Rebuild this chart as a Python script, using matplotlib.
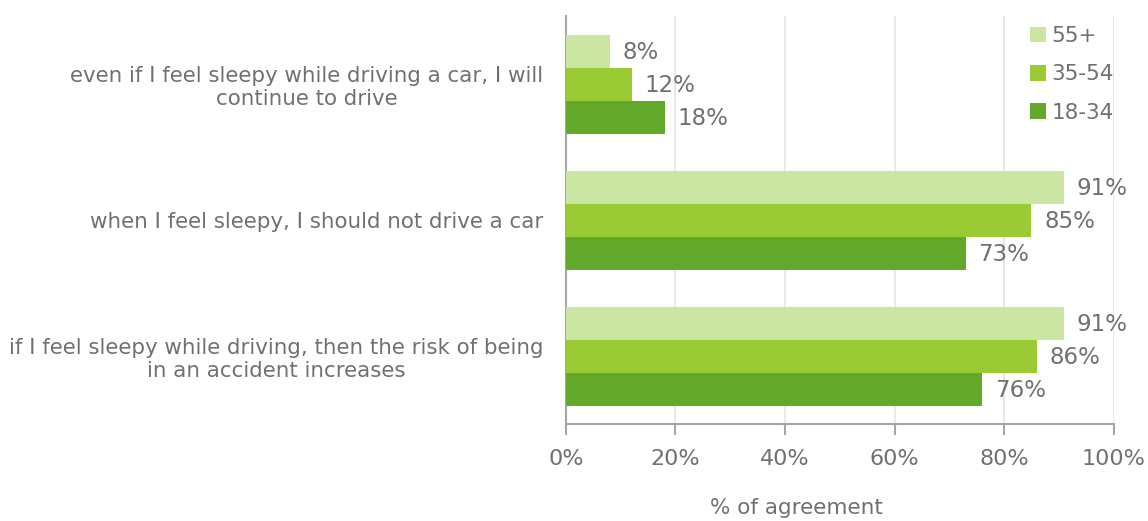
import numpy as np
import matplotlib
matplotlib.use("Agg")
import matplotlib.pyplot as plt

# data
statements = [
    "even if I feel sleepy while driving a car, I will\ncontinue to drive",
    "when I feel sleepy, I should not drive a car",
    "if I feel sleepy while driving, then the risk of being\nin an accident increases",
]
groups = ["55+", "35-54", "18-34"]
age_55_plus = [8, 91, 91]
age_35_54 = [12, 85, 86]
age_18_34 = [18, 73, 76]
colors = ["#cbe6a3", "#9aca34", "#63a82a"]

txt = "#707070"
plt.rcParams["font.family"] = ["DejaVu Sans"]

fig = plt.figure(figsize=(11.48, 5.21), dpi=100)
ax = fig.add_axes([0.493, 0.186, 0.477, 0.783])

y = np.arange(len(statements))
h = 0.243
series = [age_55_plus, age_35_54, age_18_34]
offsets = [-h, 0, h]
for vals, off, col, name in zip(series, offsets, colors, groups):
    bars = ax.barh(y + off, vals, height=h, color=col, label=name, zorder=3)
    for b, v in zip(bars, vals):
        ax.text(b.get_width() + 2.3, b.get_y() + b.get_height() / 2 + 0.01, f"{v}%",
                va="center", ha="left", fontsize=16.5, color=txt, zorder=4)

ax.set_xlim(0, 100)
ax.set_ylim(2.5, -0.5)
ax.set_xticks(range(0, 101, 20))
ax.set_xticklabels([f"{t}%" for t in range(0, 101, 20)])
ax.set_yticks(y)
ax.set_yticklabels(statements)
for lbl in ax.get_yticklabels():
    lbl.set_multialignment("center")

ax.grid(axis="x", color="#e3e3e3", lw=1.2, zorder=0)
for s in ["top", "right"]:
    ax.spines[s].set_visible(False)
for s in ["left", "bottom"]:
    ax.spines[s].set_color("#a6a6a6")
    ax.spines[s].set_linewidth(1.5)

ax.tick_params(axis="x", colors="#a6a6a6", labelcolor=txt, labelsize=16,
               length=8, width=1.5, pad=10)
ax.tick_params(axis="y", length=0, labelcolor=txt, labelsize=15.4, pad=16.5)
ax.set_xlabel("% of agreement", fontsize=15.5, color=txt)
ax.xaxis.set_label_coords(0.42, -0.18)

leg = ax.legend(loc="upper right", bbox_to_anchor=(1.028, 1.013), frameon=False,
                fontsize=15.5, labelcolor=txt, handlelength=0.75, handleheight=0.75,
                handletextpad=0.25, labelspacing=0.85, borderaxespad=0.3)

fig.savefig("out.png", dpi=100)
